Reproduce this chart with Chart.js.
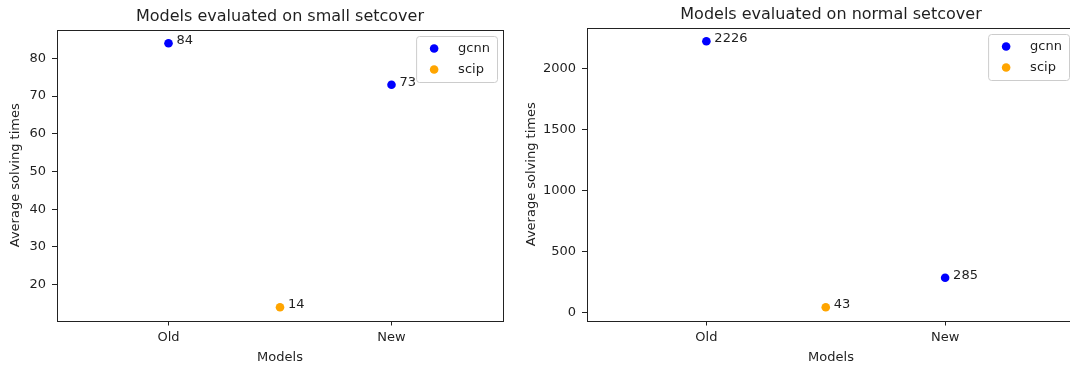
<!DOCTYPE html>
<html><head><meta charset="utf-8">
<script src="https://cdn.jsdelivr.net/npm/chart.js@4.4.1/dist/chart.umd.min.js"></script>
<style>
html,body{margin:0;padding:0;background:#fff;overflow:hidden;width:1070px;height:365px;position:relative}
canvas{position:absolute;top:0}
#c1{left:0}
#c2{left:516px}
</style></head>
<body>
<canvas id="c1" width="520" height="365"></canvas>
<canvas id="c2" width="574" height="365"></canvas>
<script>
const categories = ['Old', 'New'];
const seriesNames = ['gcnn', 'scip'];
const seriesColors = ['#0000ff', '#ffa500'];
const gcnnSmall = [84, 73];
const scipSmall = [14];
const gcnnNormal = [2226, 285];
const scipNormal = [43];
const scipPosition = [0.5];
const yTicksSmall = [20, 30, 40, 50, 60, 70, 80];
const yTicksNormal = [0, 500, 1000, 1500, 2000];
const titleSmall = 'Models evaluated on small setcover';
const titleNormal = 'Models evaluated on normal setcover';
const xAxisTitle = 'Models';
const yAxisTitle = 'Average solving times';

const FONT = 'DejaVu Sans';
const FS = 13;
const TXT = '#1f1f1f';
const SPINE = '#222';

const framePlugin = {
  id: 'frame',
  afterDraw(chart) {
    const ctx = chart.ctx, a = chart.chartArea;
    ctx.save();
    ctx.strokeStyle = SPINE; ctx.lineWidth = 1;
    ctx.strokeRect(Math.round(a.left) + 0.5, Math.round(a.top) + 0.5, Math.round(a.right - a.left), Math.round(a.bottom - a.top));
    // title
    ctx.fillStyle = TXT;
    ctx.font = '16px "' + FONT + '"';
    ctx.textAlign = 'center'; ctx.textBaseline = 'alphabetic';
    ctx.fillText(chart.options.plugins.frame.title, (a.left + a.right) / 2, a.top - 9);
    // point labels
    ctx.font = FS + 'px "' + FONT + '"';
    ctx.textAlign = 'left';
    chart.data.datasets.forEach((ds, i) => {
      chart.getDatasetMeta(i).data.forEach((el, j) => {
        ctx.fillText(String(ds.data[j].y), el.x + 8, el.y + 1);
      });
    });
    // legend
    let tw = 0;
    chart.data.datasets.forEach(ds => { tw = Math.max(tw, ctx.measureText(ds.label).width); });
    const bw = 42 + tw + 7, bh = 46;
    const bx = a.right - 6 - bw, by = a.top + 6;
    ctx.beginPath();
    if (ctx.roundRect) ctx.roundRect(bx + 0.5, by + 0.5, bw, bh, 3); else ctx.rect(bx + 0.5, by + 0.5, bw, bh);
    ctx.fillStyle = 'rgba(255,255,255,0.8)'; ctx.fill();
    ctx.strokeStyle = '#cccccc'; ctx.lineWidth = 1; ctx.stroke();
    chart.data.datasets.forEach((ds, i) => {
      const cy = by + 12.5 + i * 21;
      ctx.beginPath(); ctx.arc(bx + 18, cy, 4.3, 0, Math.PI * 2);
      ctx.fillStyle = ds.backgroundColor; ctx.fill();
      ctx.fillStyle = TXT; ctx.textBaseline = 'middle';
      ctx.fillText(ds.label, bx + 42, cy + 0.5);
    });
    ctx.restore();
  }
};

function makeChart(id, gcnnVals, scipVals, yTicks, title, g) {
  const all = gcnnVals.concat(scipVals);
  const lo = Math.min(...all), hi = Math.max(...all), m = (hi - lo) * 0.05;
  const datasets = [
    { label: seriesNames[0], data: gcnnVals.map((v, i) => ({ x: i, y: v })) },
    { label: seriesNames[1], data: scipVals.map((v, i) => ({ x: scipPosition[i], y: v })) }
  ].map((d, i) => Object.assign(d, {
    backgroundColor: seriesColors[i], borderColor: seriesColors[i],
    pointRadius: 4.3, pointHoverRadius: 4.3, borderWidth: 0
  }));
  return new Chart(document.getElementById(id), {
    type: 'scatter',
    data: { datasets },
    options: {
      responsive: false, animation: false,
      layout: { padding: { top: g.top, right: g.right, left: 0, bottom: 0 } },
      plugins: { legend: { display: false }, tooltip: { enabled: false }, title: { display: false }, frame: { title } },
      scales: {
        x: {
          type: 'linear', min: -0.5, max: g.xMax,
          afterBuildTicks: s => { s.ticks = categories.map((c, i) => ({ value: i })); },
          afterFit: s => { s.height = 365 - g.bottom; },
          ticks: { callback: v => categories[v], color: TXT, font: { family: FONT, size: FS }, padding: 4, maxRotation: 0, autoSkip: false },
          grid: { display: true, drawOnChartArea: false, drawTicks: true, tickLength: 5, color: SPINE },
          border: { display: false },
          title: { display: true, text: xAxisTitle, color: TXT, font: { family: FONT, size: FS }, padding: { top: 2, bottom: 0 } }
        },
        y: {
          type: 'linear', min: lo - m, max: hi + m,
          afterBuildTicks: s => { s.ticks = yTicks.map(v => ({ value: v })); },
          afterFit: s => { s.width = g.left; },
          ticks: { callback: v => String(v), color: TXT, font: { family: FONT, size: FS }, padding: 6 },
          grid: { display: true, drawOnChartArea: false, drawTicks: true, tickLength: 5, color: SPINE },
          border: { display: false },
          title: { display: true, text: yAxisTitle, color: TXT, font: { family: FONT, size: FS }, padding: { top: 8, bottom: 4 } }
        }
      }
    },
    plugins: [framePlugin]
  });
}

makeChart('c1', gcnnSmall, scipSmall, yTicksSmall, titleSmall, { left: 57, right: 17, top: 30, bottom: 320.5, xMax: 1.5 });
makeChart('c2', gcnnNormal, scipNormal, yTicksNormal, titleNormal, { left: 71, right: 15, top: 28, bottom: 320.5, xMax: 1.544 });
</script>
</body></html>
